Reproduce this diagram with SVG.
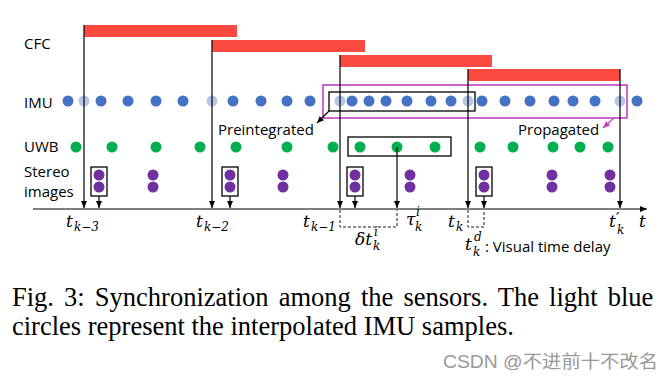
<svg xmlns="http://www.w3.org/2000/svg" width="667" height="384" viewBox="0 0 667 384">
<defs>
<style>
.lbl{font-family:"Open Sans","Liberation Sans",sans-serif;font-size:15px;fill:#000}
.math{font-family:"DejaVu Serif","Liberation Serif",serif;font-style:italic;fill:#000;font-size:17px}
.s{font-size:12px}
.cap{font-family:"Liberation Serif",serif;font-size:26.5px;fill:#000}
.bar{fill:#FC4A40}
.imu{fill:#4472C4}
.imul{fill:#B4C7E7}
.uwb{fill:#00B050}
.st{fill:#7030A0}
.ln{stroke:#000;stroke-width:1.2;fill:none}
.dash{stroke:#000;stroke-width:0.9;stroke-dasharray:3,2;fill:none}
.box{stroke:#000;stroke-width:1.3;fill:none}
</style>
<marker id="ah" markerUnits="userSpaceOnUse" markerWidth="8" markerHeight="8" refX="7" refY="4" orient="auto">
<path d="M0,1 L7,4 L0,7 z" fill="#000"/>
</marker>
<marker id="ahm" markerUnits="userSpaceOnUse" markerWidth="8" markerHeight="8" refX="7" refY="4" orient="auto">
<path d="M0,1 L7,4 L0,7 z" fill="#C040C0"/>
</marker>
</defs>
<rect width="667" height="384" fill="#fff"/>

<g id="labels">
<text class="lbl" x="24" y="49">CFC</text>
<text class="lbl" x="24" y="108">IMU</text>
<text class="lbl" x="24" y="152">UWB</text>
<text class="lbl" x="24" y="177">Stereo</text>
<text class="lbl" x="24" y="197">images</text>
</g>

<g id="cfc">
<rect class="bar" x="84" y="25" width="153" height="12"/>
<rect class="bar" x="212" y="40" width="153" height="12"/>
<rect class="bar" x="340" y="55" width="152" height="12"/>
<rect class="bar" x="468" y="69" width="152" height="12"/>
</g>

<g id="imu">
<circle class="imu" cx="68" cy="101" r="5.5"/>
<circle class="imul" cx="84" cy="101" r="5.5"/>
<circle class="imu" cx="101" cy="101" r="5.5"/>
<circle class="imu" cx="128" cy="101" r="5.5"/>
<circle class="imu" cx="156" cy="101" r="5.5"/>
<circle class="imu" cx="183" cy="101" r="5.5"/>
<circle class="imul" cx="212" cy="101" r="5.5"/>
<circle class="imu" cx="233" cy="101" r="5.5"/>
<circle class="imu" cx="261" cy="101" r="5.5"/>
<circle class="imu" cx="287" cy="101" r="5.5"/>
<circle class="imu" cx="310" cy="101" r="5.5"/>
<circle class="imul" cx="340" cy="101" r="5.5"/>
<circle class="imu" cx="352" cy="101" r="5.5"/>
<circle class="imu" cx="369" cy="101" r="5.5"/>
<circle class="imu" cx="386" cy="101" r="5.5"/>
<circle class="imu" cx="407" cy="101" r="5.5"/>
<circle class="imu" cx="431" cy="101" r="5.5"/>
<circle class="imu" cx="451" cy="101" r="5.5"/>
<circle class="imul" cx="468" cy="101" r="5.5"/>
<circle class="imu" cx="482" cy="101" r="5.5"/>
<circle class="imu" cx="505" cy="101" r="5.5"/>
<circle class="imu" cx="530" cy="101" r="5.5"/>
<circle class="imu" cx="554" cy="101" r="5.5"/>
<circle class="imu" cx="573" cy="101" r="5.5"/>
<circle class="imu" cx="595" cy="101" r="5.5"/>
<circle class="imul" cx="620" cy="101" r="5.5"/>
<circle class="imu" cx="637" cy="101" r="5.5"/>
</g>

<g id="preintegrated">
<rect class="box" x="329" y="92" width="146" height="19"/>
<text class="lbl" x="218" y="135">Preintegrated</text>
</g>

<g id="propagated">
<rect x="323" y="85" width="304" height="33" fill="none" stroke="#C040C0" stroke-width="1.6"/>
<text class="lbl" x="518" y="135">Propagated</text>
</g>

<g id="uwb">
<circle class="uwb" cx="76" cy="147" r="5.5"/>
<circle class="uwb" cx="112" cy="147" r="5.5"/>
<circle class="uwb" cx="156" cy="147" r="5.5"/>
<circle class="uwb" cx="200" cy="147" r="5.5"/>
<circle class="uwb" cx="236" cy="147" r="5.5"/>
<circle class="uwb" cx="287" cy="147" r="5.5"/>
<circle class="uwb" cx="333" cy="147" r="5.5"/>
<circle class="uwb" cx="360" cy="147" r="5.5"/>
<circle class="uwb" cx="397" cy="147" r="5.5"/>
<circle class="uwb" cx="435" cy="147" r="5.5"/>
<circle class="uwb" cx="480" cy="147" r="5.5"/>
<circle class="uwb" cx="513" cy="147" r="5.5"/>
<circle class="uwb" cx="553" cy="147" r="5.5"/>
<circle class="uwb" cx="580" cy="147" r="5.5"/>
<circle class="uwb" cx="608" cy="147" r="5.5"/>
<rect class="box" x="348" y="137" width="103" height="19"/>
</g>

<g id="stereo">
<circle class="st" cx="99" cy="175" r="5.5"/><circle class="st" cx="99" cy="187" r="5.5"/>
<circle class="st" cx="153" cy="175" r="5.5"/><circle class="st" cx="153" cy="187" r="5.5"/>
<circle class="st" cx="230" cy="175" r="5.5"/><circle class="st" cx="230" cy="187" r="5.5"/>
<circle class="st" cx="283" cy="175" r="5.5"/><circle class="st" cx="283" cy="187" r="5.5"/>
<circle class="st" cx="355" cy="175" r="5.5"/><circle class="st" cx="355" cy="187" r="5.5"/>
<circle class="st" cx="410" cy="175" r="5.5"/><circle class="st" cx="410" cy="187" r="5.5"/>
<circle class="st" cx="484" cy="175" r="5.5"/><circle class="st" cx="484" cy="187" r="5.5"/>
<circle class="st" cx="552" cy="175" r="5.5"/><circle class="st" cx="552" cy="187" r="5.5"/>
<circle class="st" cx="610" cy="175" r="5.5"/><circle class="st" cx="610" cy="187" r="5.5"/>
<rect class="box" x="91" y="167" width="16" height="29"/>
<rect class="box" x="222" y="167" width="16" height="29"/>
<rect class="box" x="347" y="167" width="16" height="29"/>
<rect class="box" x="476" y="167" width="16" height="29"/>
</g>

<g id="connectors">
<line class="ln" x1="33" y1="209" x2="647" y2="209" marker-end="url(#ah)"/>
<line class="ln" x1="84" y1="25" x2="84" y2="208" marker-end="url(#ah)"/>
<line class="ln" x1="212" y1="40" x2="212" y2="208" marker-end="url(#ah)"/>
<line class="ln" x1="340" y1="55" x2="340" y2="208" marker-end="url(#ah)"/>
<line class="ln" x1="468" y1="69" x2="468" y2="208" marker-end="url(#ah)"/>
<line class="ln" x1="620" y1="69" x2="620" y2="208" marker-end="url(#ah)"/>
<line class="ln" x1="397" y1="147" x2="397" y2="208" marker-end="url(#ah)"/>
<line class="ln" x1="99" y1="196" x2="99" y2="208" marker-end="url(#ah)"/>
<line class="ln" x1="230" y1="196" x2="230" y2="208" marker-end="url(#ah)"/>
<line class="ln" x1="355" y1="196" x2="355" y2="208" marker-end="url(#ah)"/>
<line class="ln" x1="484" y1="196" x2="484" y2="208" marker-end="url(#ah)"/>
<line class="ln" x1="329" y1="111" x2="317" y2="123" marker-end="url(#ah)"/>
<line x1="614" y1="118" x2="603" y2="128" stroke="#C040C0" stroke-width="1.2" marker-end="url(#ahm)"/>
<path class="dash" d="M340,210 V227 H397 V210"/>
<path class="dash" d="M468,210 V227 H484 V210"/>
</g>

<g id="axis-labels">
<text class="math" x="66" y="227">t<tspan class="s" x="74" y="231">k−3</tspan></text>
<text class="math" x="196" y="227">t<tspan class="s" x="204" y="231">k−2</tspan></text>
<text class="math" x="303" y="227">t<tspan class="s" x="311" y="231">k−1</tspan></text>
<text class="math" x="448" y="227">t<tspan class="s" x="456" y="231">k</tspan></text>
<text class="math" x="406" y="225">τ<tspan class="s" x="416" y="216">i</tspan><tspan class="s" x="415" y="231">k</tspan></text>
<text class="math" x="609" y="227">t<tspan x="616" y="224" font-size="16" font-style="normal">′</tspan><tspan class="s" x="617" y="234">k</tspan></text>
<text class="math" x="639" y="227">t</text>
<text class="math" x="355" y="245">δt<tspan class="s" x="374" y="236">i</tspan><tspan class="s" x="373" y="250">k</tspan></text>
<text class="math" x="465" y="250">t<tspan class="s" x="474" y="241">d</tspan><tspan class="s" x="473" y="256">k</tspan></text>
<text class="lbl" x="485" y="252">: Visual time delay</text>
</g>

<g id="caption">
<text class="cap" x="12" y="306" word-spacing="3.5">Fig. 3: Synchronization among the sensors. The light blue</text>
<text class="cap" x="12" y="335">circles represent the interpolated IMU samples.</text>
<text x="443" y="368" font-family="Liberation Sans,'Noto Sans CJK SC',sans-serif" font-size="18" fill="#999" textLength="215" lengthAdjust="spacingAndGlyphs">CSDN @不进前十不改名</text>
</g>
</svg>
